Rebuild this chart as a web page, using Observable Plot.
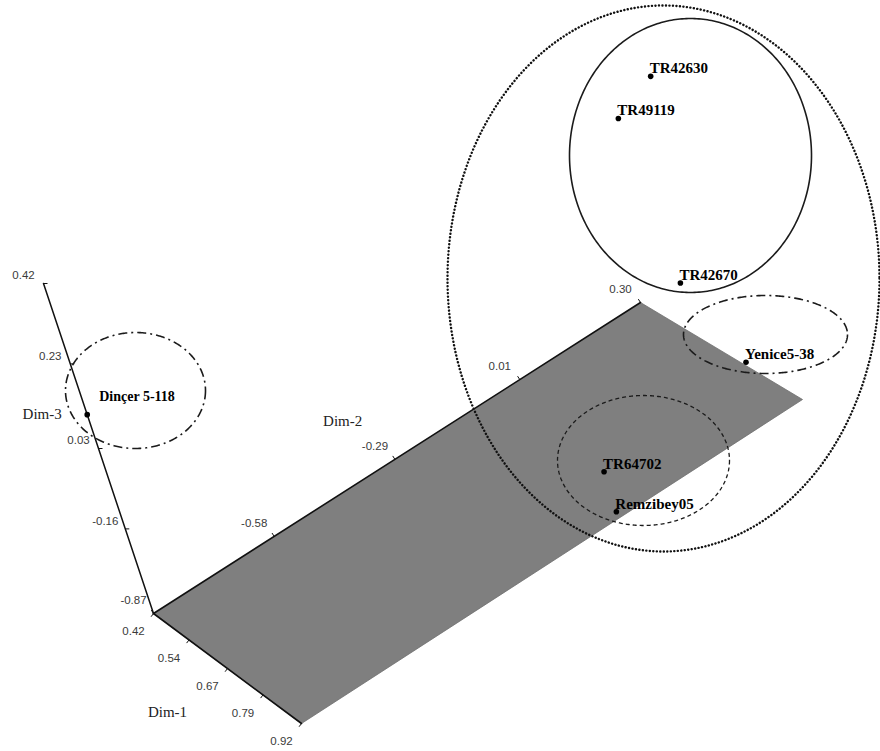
<!DOCTYPE html>
<html>
<head>
<meta charset="utf-8">
<script src="https://cdn.jsdelivr.net/npm/d3@7"></script>
<script src="https://cdn.jsdelivr.net/npm/@observablehq/plot@0.6"></script>
<style>
  html, body { margin: 0; padding: 0; background: #fff; }
  #chart svg { display: block; background: #fff; }
</style>
</head>
<body>
<div id="chart"></div>
<script>
// Accessions and their coordinates on the three MDS dimensions
const accessions = ["TR42630", "TR49119", "TR42670", "Yenice5-38", "TR64702", "Remzibey05", "Dinçer 5-118"];
const dim1 = [0.87, 0.77, 0.92, 0.75, 0.82, 0.90, 0.42];
const dim2 = [0.24, 0.20, 0.14, 0.30, -0.08, -0.12, -0.87];
const dim3 = [0.42, 0.30, 0.02, -0.35, -0.33, -0.36, 0.11];

// Axis extents and tick labels
const dim1Range = [0.42, 0.92];
const dim2Range = [-0.87, 0.30];
const dim3Range = [-0.36, 0.42];
const dim1Ticks = ["0.42", "0.54", "0.67", "0.79", "0.92"];
const dim2Ticks = ["-0.87", "-0.58", "-0.29", "0.01", "0.30"];
const dim3Ticks = ["0.42", "0.23", "0.03", "-0.16"];

// Groupings that are outlined
const clusterNames = ["A", "B", "C", "D", "E"];
const clusterMembers = [
  ["TR42630", "TR49119", "TR42670"],
  ["TR42630", "TR49119", "TR42670", "Yenice5-38", "TR64702", "Remzibey05"],
  ["TR64702", "Remzibey05"],
  ["Yenice5-38"],
  ["Dinçer 5-118"]
];

// ---- view geometry (screen plane of the oblique 3D box) ----
const W = 880, H = 751;
const frame = {
  origin: [153, 613],   // dim1 min, dim2 min, dim3 min
  d1End: [301, 723],    // dim1 max
  d2End: [640, 302],    // dim2 max
  far: [802, 399],      // dim1 max, dim2 max
  up: [-110, -330]      // full dim3 extent
};
const n1 = d3.scaleLinear().domain(dim1Range).range([0, 1]);
const n2 = d3.scaleLinear().domain(dim2Range).range([0, 1]);
const n3 = d3.scaleLinear().domain(dim3Range).range([0, 1]);

function project(a, b, c) {
  const u = n1(a), v = n2(b), w = n3(c);
  const {origin: O, d1End: B, d2End: T, far: R, up} = frame;
  const k = i => O[i] * (1 - u) * (1 - v) + B[i] * u * (1 - v) + T[i] * (1 - u) * v + R[i] * u * v + w * up[i];
  return [k(0), k(1)];
}

// Cluster outline shapes, in view units
const outlineShapes = {
  A: {cx: 690, cy: 155, rx: 121, ry: 137, stroke: "#1b1b1b", width: 1.6, dash: null, cap: "butt"},
  B: {cx: 663, cy: 278, rx: 216, ry: 273, stroke: "#111", width: 2.4, dash: "0.1,3.4", cap: "round"},
  C: {cx: 643, cy: 460, rx: 86, ry: 65, stroke: "#1b1b1b", width: 1.3, dash: "4,3", cap: "butt"},
  D: {cx: 765, cy: 334, rx: 82, ry: 39, stroke: "#1b1b1b", width: 1.6, dash: "9,4,2,4", cap: "butt"},
  E: {cx: 135, cy: 390, rx: 70, ry: 58, stroke: "#1b1b1b", width: 1.6, dash: "9,4,2,4", cap: "butt"}
};

// Data tables
const points = accessions.map((name, i) => {
  const [x, y] = project(dim1[i], dim2[i], dim3[i]);
  return {name, x, y};
});

const plane = [
  [dim1Range[0], dim2Range[0]], [dim1Range[1], dim2Range[0]],
  [dim1Range[1], dim2Range[1]], [dim1Range[0], dim2Range[1]]
].map(([a, b]) => { const [x, y] = project(a, b, dim3Range[0]); return {x, y}; });

const axis = (from, to) => [from, to].map(([a, b, c]) => { const [x, y] = project(a, b, c); return {x, y}; });
const dim1Axis = axis([dim1Range[0], dim2Range[0], dim3Range[0]], [dim1Range[1], dim2Range[0], dim3Range[0]]);
const dim2Axis = axis([dim1Range[0], dim2Range[0], dim3Range[0]], [dim1Range[0], dim2Range[1], dim3Range[0]]);
const dim3Axis = axis([dim1Range[0], dim2Range[0], dim3Range[0]], [dim1Range[0], dim2Range[0], dim3Range[1]]);

function tickRows(labels, at, dir) {
  return labels.map(label => {
    const [x, y] = at(+label);
    return {label, x, y, x2: x + dir[0], y2: y + dir[1]};
  });
}
const ticks1 = tickRows(dim1Ticks, v => project(v, dim2Range[0], dim3Range[0]), [-2.4, 3.2]);
const ticks2 = tickRows(dim2Ticks, v => project(dim1Range[0], v, dim3Range[0]), [-2.2, -3.4]);
const ticks3 = tickRows(dim3Ticks, v => project(dim1Range[0], dim2Range[0], v), [4, 0]);

// Axis titles, placed beside a point along each axis
const titles = [
  {label: "Dim-1", p: project(d3.quantile(dim1Range, 0.5), dim2Range[0], dim3Range[0]), off: [-60, 44]},
  {label: "Dim-2", p: project(dim1Range[0], d3.quantile(dim2Range, 0.45), dim3Range[0]), off: [-30, -52]},
  {label: "Dim-3", p: project(dim1Range[0], dim2Range[0], d3.quantile(dim3Range, 0.603)), off: [-45, 0]}
].map(t => ({label: t.label, x: t.p[0] + t.off[0], y: t.p[1] + t.off[1]}));

function ellipse(s) {
  return d3.range(0, 361).map(i => {
    const t = (i / 360) * 2 * Math.PI;
    return {x: s.cx + s.rx * Math.cos(t), y: s.cy + s.ry * Math.sin(t)};
  });
}

const serif = "'Liberation Serif', 'Times New Roman', serif";
const sans = "'Liberation Sans', Arial, sans-serif";

const tickLabelMarks = (rows, dx, dy) =>
  Plot.text(rows, {x: "x", y: "y", text: "label", dx, dy, fontFamily: sans, fontSize: 11.5, fill: "#3a3a3a", textAnchor: "middle"});

const chart = Plot.plot({
  width: W,
  height: H,
  margin: 0,
  x: {domain: [0, W], range: [0, W], axis: null},
  y: {domain: [0, H], range: [0, H], axis: null},
  marks: [
    // horizontal dim1–dim2 plane
    Plot.line(plane, {x: "x", y: "y", fill: "#7f7f7f", stroke: "#6e6e6e", strokeWidth: 0.8}),
    // axes
    Plot.line(dim1Axis, {x: "x", y: "y", stroke: "#111", strokeWidth: 1.6}),
    Plot.line(dim2Axis, {x: "x", y: "y", stroke: "#111", strokeWidth: 1.6}),
    Plot.line(dim3Axis, {x: "x", y: "y", stroke: "#111", strokeWidth: 1.5}),
    Plot.link(ticks1, {x1: "x", y1: "y", x2: "x2", y2: "y2", stroke: "#111", strokeWidth: 1}),
    Plot.link(ticks2, {x1: "x", y1: "y", x2: "x2", y2: "y2", stroke: "#111", strokeWidth: 1}),
    Plot.link(ticks3, {x1: "x", y1: "y", x2: "x2", y2: "y2", stroke: "#111", strokeWidth: 1}),
    tickLabelMarks(ticks1, -20, 18),
    tickLabelMarks(ticks2, -20, -13),
    tickLabelMarks(ticks3, -20, -8),
    Plot.text(titles, {x: "x", y: "y", text: "label", fontFamily: serif, fontSize: 15, fill: "#222", textAnchor: "middle"}),
    // cluster outlines
    ...clusterNames.map(c => {
      const s = outlineShapes[c];
      return Plot.line(ellipse(s), {x: "x", y: "y", stroke: s.stroke, strokeWidth: s.width, strokeDasharray: s.dash ?? undefined, strokeLinecap: s.cap, curve: "linear"});
    }),
    // accessions
    Plot.dot(points, {x: "x", y: "y", r: 2.8, fill: "#000", stroke: "none"}),
    Plot.text(points.filter(d => d.name !== "Dinçer 5-118"), {x: "x", y: "y", text: "name", dx: -1, dy: -8, textAnchor: "start", fontFamily: serif, fontWeight: "bold", fontSize: 15, fill: "#000"}),
    Plot.text(points.filter(d => d.name === "Dinçer 5-118"), {x: "x", y: "y", text: "name", dx: 12, dy: -18, textAnchor: "start", fontFamily: serif, fontWeight: "bold", fontSize: 14, fill: "#000"})
  ]
});

document.getElementById("chart").append(chart);
</script>
</body>
</html>
